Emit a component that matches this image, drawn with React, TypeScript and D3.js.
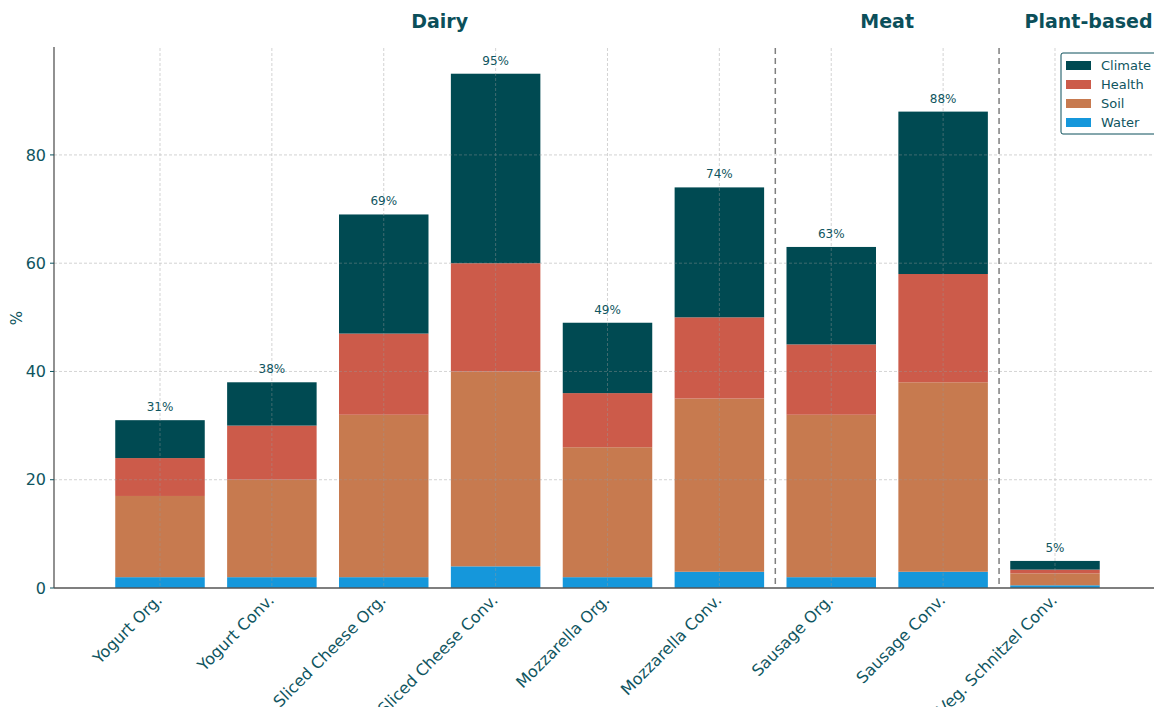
import React from "react";
import * as d3 from "d3";

const categories = [
  "Yogurt Org.",
  "Yogurt Conv.",
  "Sliced Cheese Org.",
  "Sliced Cheese Conv.",
  "Mozzarella Org.",
  "Mozzarella Conv.",
  "Sausage Org.",
  "Sausage Conv.",
  "Veg. Schnitzel Conv.",
];
const water = [2, 2, 2, 4, 2, 3, 2, 3, 0.5];
const soil = [15, 18, 30, 36, 24, 32, 30, 35, 2.2];
const health = [7, 10, 15, 20, 10, 15, 13, 20, 0.7];
const climate = [7, 8, 22, 35, 13, 24, 18, 30, 1.6];
const totalLabels = ["31%", "38%", "69%", "95%", "49%", "74%", "63%", "88%", "5%"];
const yTicks = [0, 20, 40, 60, 80];
const groups = [
  { name: "Dairy", center: 2.5 },
  { name: "Meat", center: 6.5 },
  { name: "Plant-based", center: 8.3 },
];
const separators = [5.5, 7.5];

const seriesNames = ["Water", "Soil", "Health", "Climate"];
const colors: Record<string, string> = {
  Water: "#1597db",
  Soil: "#c77a4f",
  Health: "#cc5b4a",
  Climate: "#004a52",
};
const textColor = "#0f5560";

export default function App() {
  const W = 1154;
  const H = 707;
  const x = d3.scaleLinear().domain([-0.9475, 8.885]).range([54, 1154]);
  const y = d3.scaleLinear().domain([0, 99.75]).range([588, 48]);
  const bw = x(0.8) - x(0);

  const rows = categories.map((c, i) => ({
    cat: c,
    i,
    Water: water[i],
    Soil: soil[i],
    Health: health[i],
    Climate: climate[i],
  }));
  const stack = d3.stack<any>().keys(seriesNames)(rows);
  const font = "DejaVu Sans, sans-serif";

  return (
    <div style={{ position: "fixed", left: 0, top: 0 }}>
      <svg width={W} height={H} style={{ display: "block", background: "#fff" }} fontFamily={font}>
        {/* bars */}
        {stack.map((s) => (
          <g key={s.key} fill={colors[s.key]}>
            {s.map((d, i) => (
              <rect
                key={i}
                x={x(i) - bw / 2}
                width={bw}
                y={y(d[1])}
                height={y(d[0]) - y(d[1])}
              />
            ))}
          </g>
        ))}
        {/* grid */}
        <g stroke="#9a9a9a" strokeWidth={0.7} strokeDasharray="3,2" opacity={0.6}>
          {yTicks.slice(1).map((t) => (
            <line key={t} x1={54} x2={W} y1={y(t)} y2={y(t)} />
          ))}
          {categories.map((c, i) => (
            <line key={c} x1={x(i)} x2={x(i)} y1={48} y2={588} />
          ))}
        </g>
        {/* separators */}
        <g stroke="#7f7f7f" strokeWidth={1.5} strokeDasharray="6,4">
          {separators.map((s) => (
            <line key={s} x1={x(s)} x2={x(s)} y1={48} y2={588} />
          ))}
        </g>
        {/* total labels */}
        {categories.map((c, i) => (
          <text
            key={c}
            x={x(i)}
            y={y(water[i] + soil[i] + health[i] + climate[i]) - 9}
            textAnchor="middle"
            fontSize={12}
            fill={textColor}
          >
            {totalLabels[i]}
          </text>
        ))}
        {/* axes */}
        <line x1={54} x2={54} y1={47} y2={588} stroke="#555" strokeWidth={1.3} />
        <line x1={54} x2={W} y1={588} y2={588} stroke="#555" strokeWidth={1.3} />
        {yTicks.map((t) => (
          <g key={t}>
            <line x1={50} x2={54} y1={y(t)} y2={y(t)} stroke={textColor} strokeWidth={1} />
            <text x={46} y={y(t)} dy="0.35em" textAnchor="end" fontSize={16} fill={textColor}>
              {t}
            </text>
          </g>
        ))}
        <text
          transform={`translate(22,${(588 + 48) / 2}) rotate(-90)`}
          textAnchor="middle"
          fontSize={15}
          fill={textColor}
        >
          %
        </text>
        {categories.map((c, i) => (
          <text
            key={c}
            transform={`translate(${x(i) - 5},${593}) rotate(-45)`}
            textAnchor="end"
            dy="0.72em"
            fontSize={16}
            fill={textColor}
          >
            {c}
          </text>
        ))}
        {/* group titles */}
        {groups.map((g) => (
          <text
            key={g.name}
            x={x(g.center)}
            y={28}
            textAnchor="middle"
            fontSize={19}
            fontWeight="bold"
            fill="#0b4f5a"
          >
            {g.name}
          </text>
        ))}
        {/* legend */}
        <g transform="translate(1061,53)">
          <rect x={0} y={0} width={98} height={81} rx={2} fill="#fff" stroke="#0b4f5a" strokeWidth={1} />
          {[...seriesNames].reverse().map((s, k) => (
            <g key={s} transform={`translate(0,${12 + k * 19})`}>
              <rect x={5} y={-4} width={25} height={9} fill={colors[s]} />
              <text x={40} y={0} dy="0.35em" fontSize={13} fill={textColor}>
                {s}
              </text>
            </g>
          ))}
        </g>
      </svg>
    </div>
  );
}
